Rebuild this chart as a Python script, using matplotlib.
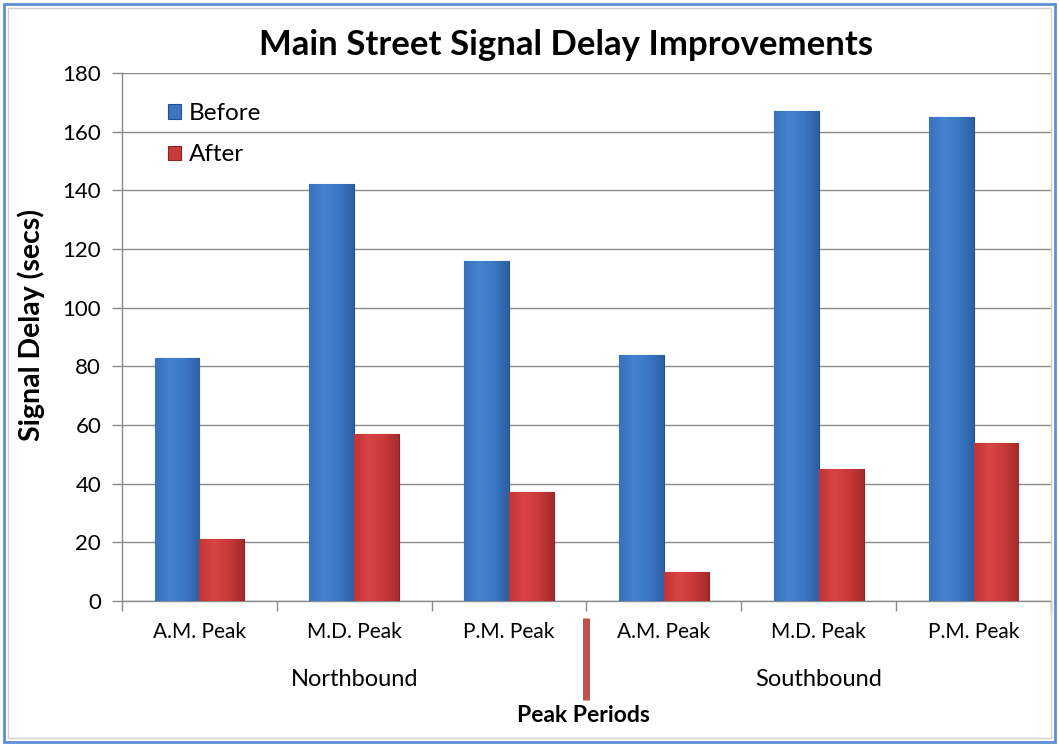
import matplotlib
matplotlib.use("Agg")
import matplotlib.pyplot as plt
from matplotlib.patches import Rectangle
from matplotlib.colors import LinearSegmentedColormap
import matplotlib.transforms as mtransforms
import numpy as np

plt.rcParams['font.family'] = ['Lato', 'DejaVu Sans']

# ---- data ----
categories = ["A.M. Peak", "M.D. Peak", "P.M. Peak", "A.M. Peak", "M.D. Peak", "P.M. Peak"]
groups = ["Northbound", "Southbound"]
before = [83, 142, 116, 84, 167, 165]
after = [21, 57, 37, 10, 45, 54]
yticks = [0, 20, 40, 60, 80, 100, 120, 140, 160, 180]

title = "Main Street Signal Delay Improvements"
ylabel = "Signal Delay (secs)"
xlabel = "Peak Periods"

blue = "#3C77C2"
red = "#C93A3A"

fig = plt.figure(figsize=(10.59, 7.46), dpi=100)
ax = fig.add_axes([122/1059, 1-601/746, (1051-122)/1059, (601-73)/746])

x = np.arange(len(categories))
w = 0.29
b1 = ax.bar(x - w/2, before, w, color=blue, edgecolor="#24508a", linewidth=0.8, label="Before", zorder=3)
b2 = ax.bar(x + w/2, after, w, color=red, edgecolor="#8a2325", linewidth=0.8, label="After", zorder=3)

# subtle horizontal shading inside bars
cmap_b = LinearSegmentedColormap.from_list("b", ["#3a72bd", "#4383d0", "#3b78c6", "#2c5fa3"])
cmap_r = LinearSegmentedColormap.from_list("r", ["#c23436", "#d84442", "#c93a3a", "#a42a2c"])
grad = np.linspace(0, 1, 64).reshape(1, -1)
for bars, cm in ((b1, cmap_b), (b2, cmap_r)):
    for p in bars:
        x0, y0 = p.get_x(), p.get_y()
        im = ax.imshow(grad, cmap=cm, aspect="auto", zorder=3.5,
                       extent=(x0, x0 + p.get_width(), y0, y0 + p.get_height()))
        im.set_clip_path(p)

ax.set_xlim(-0.5, len(categories) - 0.5)
ax.set_ylim(0, 180)
ax.set_yticks(yticks)
ax.set_yticklabels([str(t) for t in yticks], fontsize=16)
ax.yaxis.grid(True, color="#8a8a8a", linewidth=1.0, zorder=0)
ax.set_axisbelow(True)

ax.set_xticks(x)
ax.set_xticklabels(categories, fontsize=15)
ax.tick_params(axis="x", which="major", length=0, pad=15)
ax.set_xticks(np.arange(-0.5, len(categories)), minor=True)
ax.tick_params(axis="x", which="minor", length=7, color="#8a8a8a", width=1)
ax.tick_params(axis="y", length=7, color="#8a8a8a", width=1, pad=8)

for s in ["top", "right"]:
    ax.spines[s].set_visible(False)
for s in ["left", "bottom"]:
    ax.spines[s].set_color("#8a8a8a")
    ax.spines[s].set_linewidth(1)

# group labels
trans = mtransforms.blended_transform_factory(ax.transData, fig.transFigure)
n_per = len(categories) // len(groups)
for i, g in enumerate(groups):
    cx = i * n_per + (n_per - 1) / 2
    ax.text(cx, 1 - 679/746, g, transform=trans, ha="center", va="center", fontsize=17)

# separator between groups
sep = n_per - 0.5
ax.plot([sep, sep], [1 - 618/746, 1 - 700/746], transform=trans, color="#c0504d",
        linewidth=5, clip_on=False, solid_capstyle="butt")

fig.text(583/1059, 1 - 715/746, xlabel, ha="center", va="center", fontsize=16.5, fontweight="bold")
fig.text(31/1059, 1 - 325/746, ylabel, ha="center", va="center", rotation=90, fontsize=20.5, fontweight="bold")
fig.text(566/1059, 1 - 45/746, title, ha="center", va="center", fontsize=25, fontweight="bold")

leg = ax.legend(loc="upper left", bbox_to_anchor=(0.026, 0.985), frameon=False, fontsize=17.5,
                handlelength=0.55, handleheight=0.55, handletextpad=0.3, labelspacing=0.85)

# outer frame
fig.patches.append(Rectangle((4/1059, 4/746), 1051/1059, 738/746, transform=fig.transFigure,
                             fill=False, edgecolor="#5b8fd6", linewidth=2))
fig.patches.append(Rectangle((8/1059, 8/746), 1043/1059, 730/746, transform=fig.transFigure,
                             fill=False, edgecolor="#d0d0d0", linewidth=1))

fig.savefig("out.png", dpi=100)
